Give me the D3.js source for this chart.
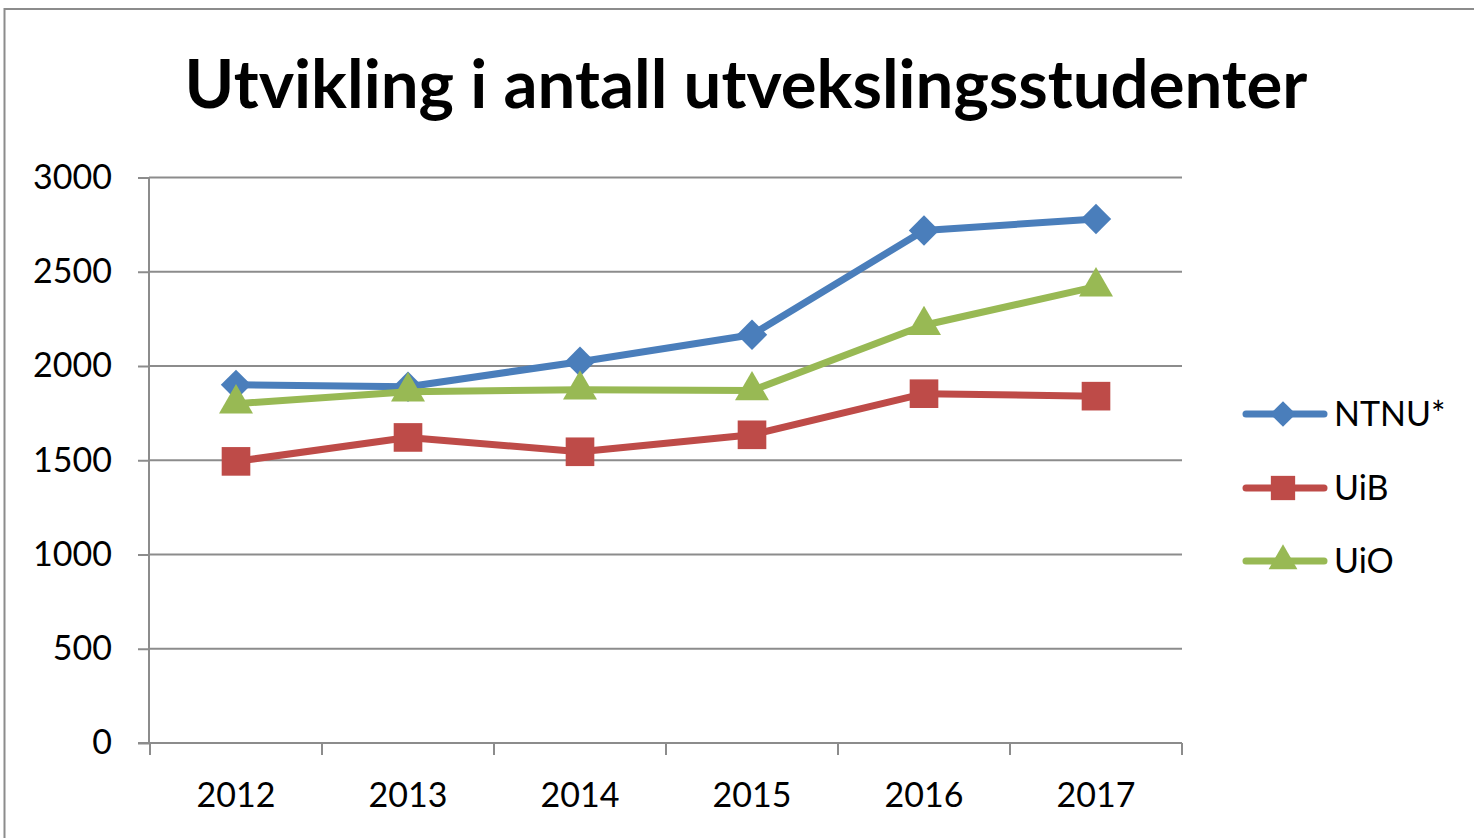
<!DOCTYPE html>
<html>
<head>
<meta charset="utf-8">
<script src="https://cdn.jsdelivr.net/npm/d3@7"></script>
<style>
  html, body { margin: 0; padding: 0; background: #fff; }
  svg { display: block; }
  text { font-family: Lato, "Open Sans", sans-serif; fill: #000; }
</style>
</head>
<body>
<svg id="chart" width="1474" height="838"></svg>
<script>
// data
const years = ["2012", "2013", "2014", "2015", "2016", "2017"];
const ntnu = [1900, 1890, 2023, 2166, 2719, 2780];
const uib  = [1494, 1621, 1545, 1635, 1853, 1840];
const uio  = [1800, 1864, 1874, 1870, 2216, 2421];
const seriesNames = ["NTNU*", "UiB", "UiO"];
const seriesColors = ["#4a7ebb", "#be4b48", "#98b954"];
const yTicks = [0, 500, 1000, 1500, 2000, 2500, 3000];
const title = "Utvikling i antall utvekslingsstudenter";

const svg = d3.select("#chart");
const W = 1474, H = 838;

// outer chart border
svg.append("rect")
  .attr("x", 4.5).attr("y", 9)
  .attr("width", W + 10).attr("height", H + 10)
  .attr("fill", "#fff")
  .attr("stroke", "#8c8c8c").attr("stroke-width", 2);

const x = d3.scaleBand().domain(years).range([150, 1182]).padding(0);
const y = d3.scaleLinear().domain([0, 3000]).range([743, 177.5]);
const cx = d => x(d) + x.bandwidth() / 2;

// gridlines
svg.append("g").selectAll("line")
  .data(yTicks.filter(t => t > 0))
  .enter().append("line")
  .attr("x1", 149).attr("x2", 1182)
  .attr("y1", d => y(d)).attr("y2", d => y(d))
  .attr("stroke", "#8c8c8c").attr("stroke-width", 2);

// y axis
const yAxis = svg.append("g")
  .attr("transform", "translate(149,0)")
  .call(d3.axisLeft(y).tickValues(yTicks).tickFormat(d3.format("d")).tickSize(11).tickPadding(26));
yAxis.selectAll("line, path").attr("stroke", "#8c8c8c").attr("stroke-width", 2);
yAxis.select(".domain").attr("d", "M0," + y(3000) + "V" + y(0));
yAxis.selectAll("text").attr("font-size", 34).attr("font-family", "Lato").attr("fill", "#000");

// x axis line + boundary ticks
svg.append("line")
  .attr("x1", 138).attr("x2", 1182)
  .attr("y1", y(0)).attr("y2", y(0))
  .attr("stroke", "#8c8c8c").attr("stroke-width", 2);
svg.append("g").selectAll("line")
  .data(years.concat(["end"]))
  .enter().append("line")
  .attr("x1", (d, i) => i < years.length ? x(d) : x.range()[1])
  .attr("x2", (d, i) => i < years.length ? x(d) : x.range()[1])
  .attr("y1", y(0)).attr("y2", y(0) + 12)
  .attr("stroke", "#8c8c8c").attr("stroke-width", 2);

const xAxis = svg.append("g")
  .attr("transform", "translate(0," + y(0) + ")")
  .call(d3.axisBottom(x).tickSize(0).tickPadding(40));
xAxis.select(".domain").remove();
xAxis.selectAll("text").attr("font-size", 34).attr("font-family", "Lato").attr("fill", "#000");

// series: diamond is a square turned 45 degrees
const shapes = [d3.symbolSquare, d3.symbolSquare, d3.symbolTriangle];
const rot = [45, 0, 0];
const sizes = [460, 820, 500];
const allSeries = [ntnu, uib, uio];

const line = d3.line().x((d, i) => cx(years[i])).y(d => y(d));

allSeries.forEach((vals, s) => {
  const g = svg.append("g");
  g.append("path")
    .attr("d", line(vals))
    .attr("fill", "none")
    .attr("stroke", seriesColors[s])
    .attr("stroke-width", 7)
    .attr("stroke-linejoin", "round")
    .attr("stroke-linecap", "round");
  g.selectAll("path.m")
    .data(vals)
    .enter().append("path")
    .attr("class", "m")
    .attr("transform", (d, i) => "translate(" + cx(years[i]) + "," + y(d) + ") rotate(" + rot[s] + ")")
    .attr("d", d3.symbol().type(shapes[s]).size(sizes[s]))
    .attr("fill", seriesColors[s]);
});

// legend
const legY = [414, 488, 561];
const leg = svg.append("g");
seriesNames.forEach((name, s) => {
  leg.append("line")
    .attr("x1", 1246).attr("x2", 1324)
    .attr("y1", legY[s]).attr("y2", legY[s])
    .attr("stroke", seriesColors[s]).attr("stroke-width", 7)
    .attr("stroke-linecap", "round");
  leg.append("path")
    .attr("transform", "translate(1283," + legY[s] + ") rotate(" + rot[s] + ")")
    .attr("d", d3.symbol().type(shapes[s]).size(sizes[s] * 0.72))
    .attr("fill", seriesColors[s]);
  leg.append("text")
    .attr("x", 1334).attr("y", legY[s])
    .attr("dy", "0.36em")
    .attr("font-size", 34)
    .text(name);
});

// title, sized to the width it has in the picture
const t = svg.append("text")
  .attr("x", 746).attr("y", 108)
  .attr("text-anchor", "middle")
  .attr("font-weight", "bold")
  .attr("font-size", 60)
  .text(title);
const tw = t.node().getComputedTextLength();
t.attr("font-size", 60 * 1123 / tw);
</script>
</body>
</html>
